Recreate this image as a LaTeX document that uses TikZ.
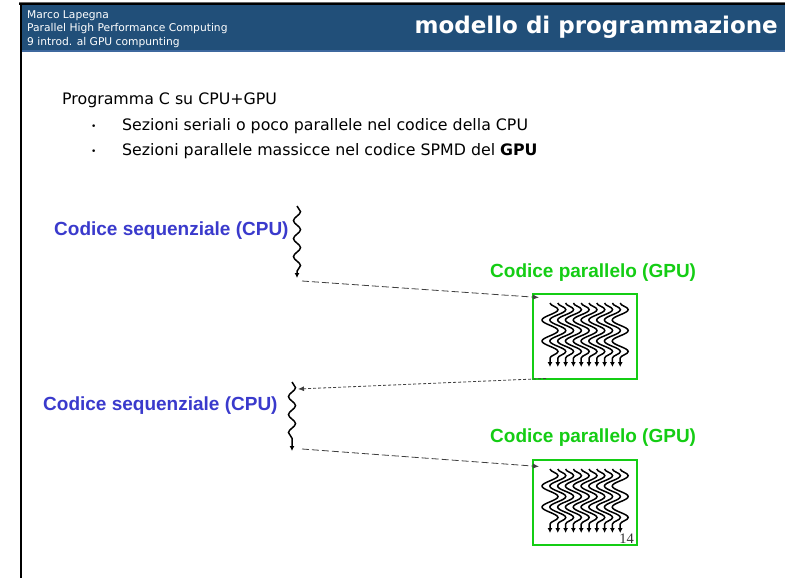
\documentclass[tikz,border=0pt]{standalone}
\usepackage{fontspec}
\setmainfont{DejaVu Sans}
\newfontfamily\arialf{Liberation Sans}
\newfontfamily\timesf{Liberation Serif}
\usetikzlibrary{decorations.pathmorphing,arrows.meta,calc}
\definecolor{hdrblue}{RGB}{33,79,121}
\definecolor{hdrline}{RGB}{62,104,158}
\definecolor{cpublue}{RGB}{58,58,204}
\definecolor{gpugreen}{RGB}{20,205,20}
\begin{document}
\begin{tikzpicture}[x=1pt,y=-1pt,
  hdrtxt/.style={anchor=base west, inner sep=0pt, text=white, font=\fontsize{10.7}{12}\selectfont},
  titletxt/.style={anchor=base east, inner sep=0pt, text=white, font=\bfseries\fontsize{23}{25}\selectfont},
  bodytxt/.style={anchor=base west, inner sep=0pt, text=black, font=\fontsize{15.8}{18}\selectfont},
  cpulabel/.style={anchor=base west, inner sep=0pt, text=cpublue, font=\arialf\bfseries\fontsize{19}{22}\selectfont},
  gpulabel/.style={anchor=base west, inner sep=0pt, text=gpugreen, font=\arialf\bfseries\fontsize{19}{22}\selectfont},
  gpubox/.style={draw=gpugreen, line width=2pt, minimum width=104pt, minimum height=85pt, inner sep=0pt},
  cpuwave/.style={line width=1.5pt, black, decorate, decoration={snake, amplitude=3.5pt, segment length=18pt, post length=4pt}, -{Latex[length=5pt,width=5pt]}},
  gpuwave/.style={line width=1.5pt, black, decorate, decoration={snake, amplitude=8pt, segment length=21pt, post length=3pt}, -{Latex[length=5pt,width=5pt]}},
  linkdash/.style={draw=black!75, line width=0.8pt, dash pattern=on 7pt off 3pt, -{Latex[length=6pt,width=5pt]}},
  linkdot/.style={draw=black!75, line width=0.8pt, dash pattern=on 3pt off 2pt, -{Latex[length=6pt,width=5pt]}}
]
\useasboundingbox (0,0) rectangle (785,578);
\fill[white] (0,0) rectangle (785,578);
% header
\fill[hdrblue] (20,4) rectangle (785,50);
\draw[hdrline, line width=2pt] (20,51) -- (785,51);
\draw[black!60, line width=0.6pt] (19,2.5) -- (785,2.5);
\draw[black, line width=1.8pt] (19,4) -- (785,4);
\draw[black, line width=2pt] (20.5,3) -- (20.5,578);
\node[hdrtxt] (h1) at (27,18.5) {Marco Lapegna};
\node[hdrtxt] (h2) at (27,32) {Parallel High Performance Computing};
\node[hdrtxt] (h3) at (27,45.5) {9 introd. al GPU compunting};
\node[titletxt] (title) at (778,33.5) {modello di programmazione};
% body text
\node[bodytxt] (p0) at (62,105) {Programma C su CPU+GPU};
\node[bodytxt, font=\fontsize{9}{10}\selectfont] (b1) at (91,129) {\textbullet};
\node[bodytxt] (p1) at (122,130) {Sezioni seriali o poco parallele nel codice della CPU};
\node[bodytxt, font=\fontsize{9}{10}\selectfont] (b2) at (91,154) {\textbullet};
\node[bodytxt] (p2) at (122,155) {Sezioni parallele massicce nel codice SPMD del \textbf{GPU}};
% labels
\node[cpulabel] (cpu1) at (54,235) {Codice sequenziale (CPU)};
\node[cpulabel] (cpu2) at (43,410) {Codice sequenziale (CPU)};
\node[gpulabel] (gpu1) at (490,277) {Codice parallelo (GPU)};
\node[gpulabel] (gpu2) at (490,442) {Codice parallelo (GPU)};
% boxes
\node[gpubox] (box1) at (585,336) {};
\node[gpubox] (box2) at (585,502) {};
% cpu squiggles
\coordinate (s1a) at (297,206);
\coordinate (s1b) at (297,278);
\coordinate (s2a) at (292,382);
\coordinate (s2b) at (292,451);
\draw[cpuwave] (s1a) -- (s1b);
\draw[cpuwave] (s2a) -- (s2b);
% gpu squiggles
\foreach \i in {0,...,9}{
  \draw[gpuwave] ({550+7.8*\i},303) -- ({550+7.8*\i},367);
  \draw[gpuwave] ({550+7.8*\i},469) -- ({550+7.8*\i},533);
}
% page number
\node[anchor=base east, inner sep=0pt, text=black!80, font=\timesf\fontsize{14.5}{15}\selectfont] (pg) at (634,543) {14};
% connectors
\coordinate (d1s) at ($(s1b)+(5,3)$);
\coordinate (d1e) at ($(box1.north west)+(7,5)$);
\draw[linkdash] (d1s) -- (d1e);
\coordinate (d2s) at ($(box1.south west)+(14,-1)$);
\coordinate (d2e) at ($(s2a)+(6,7)$);
\draw[linkdot] (d2s) -- (d2e);
\coordinate (d3s) at ($(s2b)+(10,-2)$);
\coordinate (d3e) at ($(box2.north west)+(7,8)$);
\draw[linkdash] (d3s) -- (d3e);
\end{tikzpicture}
\end{document}
